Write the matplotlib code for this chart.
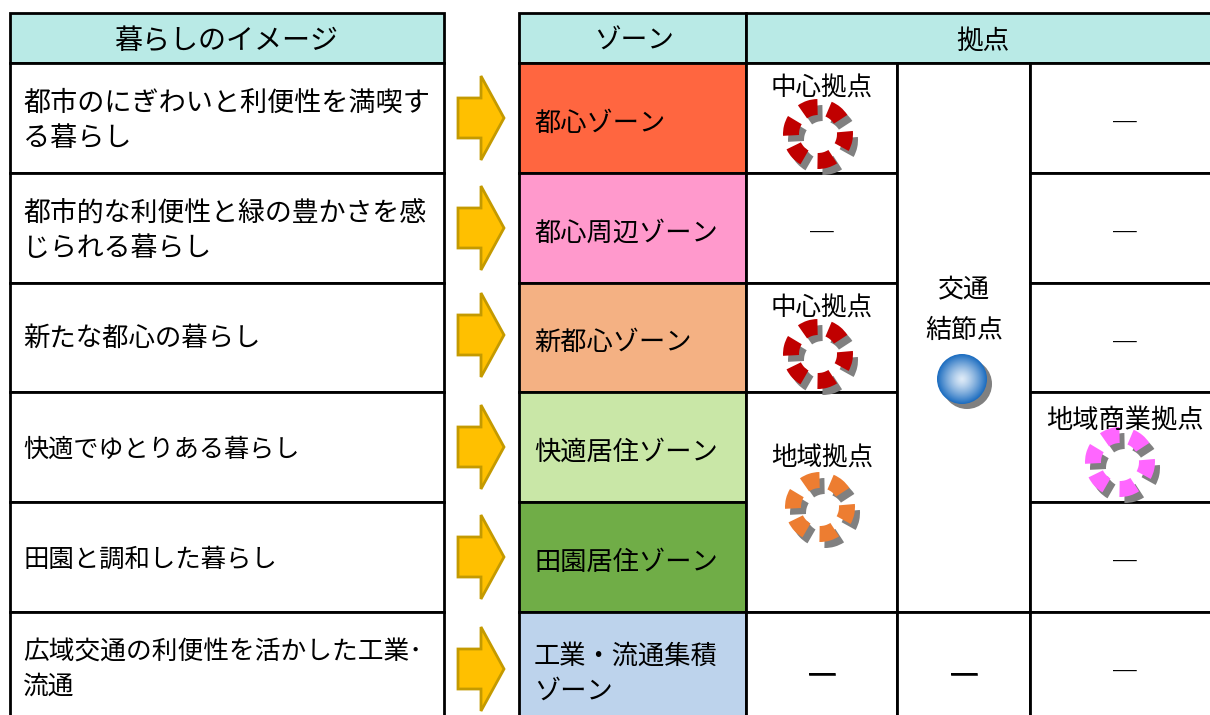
import matplotlib
matplotlib.use('Agg')
import matplotlib.pyplot as plt
from matplotlib.patches import Rectangle, Polygon, Wedge, Circle
import matplotlib.patheffects as pe
import numpy as np

plt.rcParams['font.family'] = ['Noto Sans CJK JP', 'DejaVu Sans']

header_left = '暮らしのイメージ'
header_zone = 'ゾーン'
header_base = '拠点'
life_labels = ['都市のにぎわいと利便性を満喫す\nる暮らし',
               '都市的な利便性と緑の豊かさを感\nじられる暮らし',
               '新たな都心の暮らし',
               '快適でゆとりある暮らし',
               '田園と調和した暮らし',
               '広域交通の利便性を活かした工業･\n流通']
life_sizes = [19.5, 19.4, 19, 18.1, 18.3, 18.5]
life_shift = [0, 0, -2, 0, 0, -2]
zone_labels = ['都心ゾーン', '都心周辺ゾーン', '新都心ゾーン', '快適居住ゾーン', '田園居住ゾーン', '工業・流通集積\nゾーン']
zone_colors = ['#FF6640', '#FF99CC', '#F4B183', '#C9E7A7', '#70AD47', '#BDD3EC']
header_color = '#B9EAE6'

row_y = [63, 173, 283, 392, 502, 612, 725]
arrow_mid = [118, 228, 335, 447, 557, 669]

fig = plt.figure(figsize=(12.1, 7.15), dpi=100)
ax = fig.add_axes([0, 0, 1, 1])
ax.set_xlim(0, 1210)
ax.set_ylim(715, 0)
ax.axis('off')

def box(x0, y0, x1, y1, color='white', lw=2):
    ax.add_patch(Rectangle((x0, y0), x1 - x0, y1 - y0, fc=color, ec='black', lw=lw, zorder=2))

def txt(x, y, s, size=19, ha='center', **kw):
    # Noto sits a bit high with va=center
    return ax.text(x, y + 3, s, fontsize=size, ha=ha, va='center', color='black', zorder=6, linespacing=1.38, **kw)

def ring(cx, cy, color):
    angles = [108, 50, -12, -74, -137, 166]
    for a in angles:
        ax.add_patch(Wedge((cx + 5, cy + 6), 35, -a - 17, -a + 17, width=16, fc='#808080', ec='none', zorder=3))
    for a in angles:
        ax.add_patch(Wedge((cx, cy), 35, -a - 17, -a + 17, width=16, fc=color, ec='none', zorder=4))

def arrow(mid):
    pts = [(458, mid - 20), (481, mid - 20), (481, mid - 42), (504, mid), (481, mid + 42), (481, mid + 20), (458, mid + 20)]
    ax.add_patch(Polygon(pts, closed=True, fc='#FFC000', ec='#C49A00', lw=2, zorder=3))

# left table
box(10, 13, 444, 63, header_color)
txt(226, 38, header_left, 20.2)
for i, s in enumerate(life_labels):
    box(10, row_y[i], 444, row_y[i + 1])
    txt(23, (row_y[i] + row_y[i + 1]) / 2 + life_shift[i], s, life_sizes[i], ha='left')
    arrow(arrow_mid[i])

# right table
box(519, 13, 746, 63, header_color)
box(746, 13, 1225, 63, header_color)
txt(634, 38, header_zone, 19.2)
txt(983, 38, header_base, 19.2)
for i, s in enumerate(zone_labels):
    box(519, row_y[i], 746, row_y[i + 1], zone_colors[i])
    txt(534, (row_y[i] + row_y[i + 1]) / 2 + 2, s, 18.9, ha='left')

# col 1
box(746, row_y[0], 897, row_y[1])
box(746, row_y[1], 897, row_y[2])
box(746, row_y[2], 897, row_y[3])
box(746, row_y[3], 897, row_y[5])
box(746, row_y[5], 897, row_y[6])
# col 2
box(897, row_y[0], 1030, row_y[5])
box(897, row_y[5], 1030, row_y[6])
# col 3
for i in range(6):
    box(1030, row_y[i], 1225, row_y[i + 1])

txt(822, 86, '中心拠点', 18.4)
ring(818, 134, '#C00000')
txt(822, 306, '中心拠点', 18.4)
ring(818, 354, '#C00000')
txt(822, 456, '地域拠点', 18.4)
ring(820, 507, '#ED7D31')
txt(964, 287, '交通', 18.7)
txt(964, 327, '結節点', 18.7)
txt(1125, 417, '地域商業拠点', 18.9)
ring(1120, 462, '#FF66FF')

# sphere
cx, cy, r = 962, 379, 25
ax.add_patch(Circle((cx + 5, cy + 5), r, fc='#808080', ec='none', zorder=3))
g = np.linspace(-1, 1, 200)
d = np.clip(np.hypot(*np.meshgrid(g, g)), 0, 1)[..., None]
inner = np.array([0.87, 0.92, 0.97])
outer = np.array([0.10, 0.42, 0.75])
im = ax.imshow(inner + (outer - inner) * d ** 1.3, extent=(cx - r, cx + r, cy + r, cy - r), zorder=4, aspect='auto')
im.set_clip_path(Circle((cx, cy), r, transform=ax.transData))
ax.set_xlim(0, 1210)
ax.set_ylim(715, 0)

# dashes
thin = [(1125, 123), (1125, 233), (1125, 343), (1125, 562), (1125, 672), (822, 233)]
for x, y in thin:
    txt(x, y, '―', 20)
for x in [822, 964]:
    t = txt(x, 674, '―', 22)
    t.set_path_effects([pe.withStroke(linewidth=0.4, foreground='black')])

fig.savefig('out.png', dpi=100)
